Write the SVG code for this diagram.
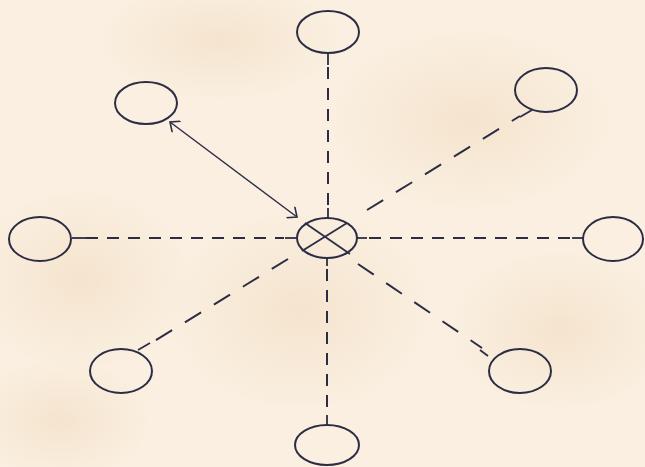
<svg xmlns="http://www.w3.org/2000/svg" width="645" height="467" viewBox="0 0 645 467">
  <defs>
    <style>
      .node { fill: none; stroke: #2c2d45; stroke-width: 2; }
      .axis { fill: none; stroke: #2c2d45; stroke-width: 2; stroke-dasharray: 12 9; }
      .diag { fill: none; stroke: #2c2d45; stroke-width: 2; stroke-dasharray: 19 15; }
      .solid { fill: none; stroke: #2c2d45; stroke-width: 1.8; }
      .thin { fill: none; stroke: #2c2d45; stroke-width: 1.4; }
    </style>
    <marker id="arrow" viewBox="0 0 14 14" refX="11" refY="7" markerWidth="14" markerHeight="14" markerUnits="userSpaceOnUse" orient="auto-start-reverse">
      <path d="M3,0 L11,7 L3,14" fill="none" stroke="#2c2d45" stroke-width="1.6"/>
    </marker>
    <radialGradient id="stain" cx="0.5" cy="0.5" r="0.5">
      <stop offset="0" stop-color="#efd7b8" stop-opacity="0.45"/>
      <stop offset="1" stop-color="#efd7b8" stop-opacity="0"/>
    </radialGradient>
  </defs>

  <rect x="0" y="0" width="645" height="467" fill="#faefe0"/>
  <ellipse cx="80" cy="280" rx="110" ry="90" fill="url(#stain)"/>
  <ellipse cx="300" cy="310" rx="130" ry="100" fill="url(#stain)"/>
  <ellipse cx="470" cy="120" rx="140" ry="90" fill="url(#stain)"/>
  <ellipse cx="220" cy="40" rx="120" ry="60" fill="url(#stain)"/>
  <ellipse cx="560" cy="330" rx="110" ry="80" fill="url(#stain)"/>
  <ellipse cx="60" cy="420" rx="90" ry="60" fill="url(#stain)"/>

  <g id="connectors">
    <!-- dashed connectors -->
    <line class="axis" x1="328" y1="67" x2="328" y2="206"/>
    <line class="axis" x1="327" y1="269" x2="327" y2="413"/>
    <line class="axis" x1="86" y1="238" x2="284" y2="238"/>
    <line class="axis" x1="369" y1="238" x2="572" y2="238"/>
    <line class="diag" x1="367" y1="210" x2="520" y2="116"/>
    <line class="diag" x1="288" y1="259" x2="148" y2="345"/>
    <line class="diag" x1="358" y1="264" x2="482" y2="348"/>
    <!-- stubs at ellipses -->
    <line class="solid" x1="328" y1="53" x2="328" y2="65"/>
    <line class="solid" x1="327" y1="415" x2="327" y2="425"/>
    <line class="solid" x1="72" y1="238" x2="86" y2="238"/>
    <line class="solid" x1="572" y1="238" x2="583" y2="238"/>
    <line class="solid" x1="532" y1="110" x2="520" y2="117"/>
    <line class="solid" x1="138" y1="350" x2="150" y2="343"/>
    <line class="solid" x1="488" y1="356" x2="480" y2="350"/>
    <!-- stubs at centre -->
    <line class="solid" x1="328" y1="208" x2="328" y2="218"/>
    <line class="solid" x1="327" y1="258" x2="327" y2="266"/>
    <line class="solid" x1="285" y1="238" x2="297" y2="238"/>
    <line class="solid" x1="357" y1="238" x2="367" y2="238"/>
    <!-- double-headed arrow -->
    <line class="thin" x1="170" y1="122" x2="297" y2="217" marker-start="url(#arrow)" marker-end="url(#arrow)"/>
  </g>

  <g id="center">
    <ellipse class="node" cx="327" cy="238" rx="30" ry="20"/>
    <line class="solid" x1="305" y1="223" x2="350" y2="254"/>
    <line class="solid" x1="302" y1="251" x2="347" y2="223"/>
  </g>
  <g id="node-top"><ellipse class="node" cx="328" cy="32" rx="31" ry="21"/></g>
  <g id="node-top-right"><ellipse class="node" cx="546" cy="90" rx="31" ry="22"/></g>
  <g id="node-right"><ellipse class="node" cx="613" cy="239" rx="30" ry="22"/></g>
  <g id="node-bottom-right"><ellipse class="node" cx="520" cy="371" rx="31" ry="22"/></g>
  <g id="node-bottom"><ellipse class="node" cx="327" cy="445" rx="32" ry="20"/></g>
  <g id="node-bottom-left"><ellipse class="node" cx="121" cy="371" rx="31" ry="22"/></g>
  <g id="node-left"><ellipse class="node" cx="40" cy="239" rx="31" ry="22"/></g>
  <g id="node-top-left"><ellipse class="node" cx="146" cy="103" rx="31" ry="21"/></g>
</svg>
